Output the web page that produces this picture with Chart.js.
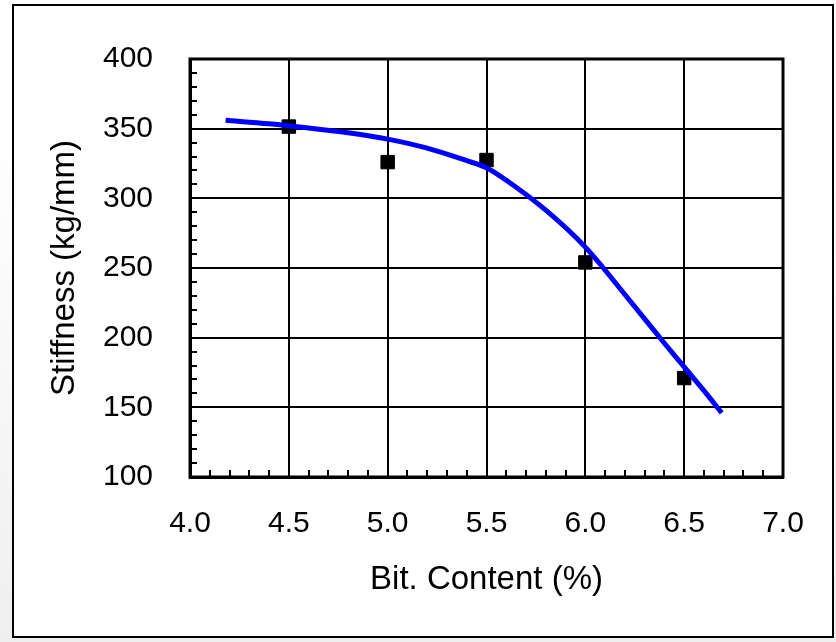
<!DOCTYPE html>
<html lang="en">
<head>
  <meta charset="UTF-8" />
  <title>Stiffness vs Bit. Content</title>
  <script src="https://cdn.jsdelivr.net/npm/chart.js"></script>
  <style>
    html, body { margin: 0; padding: 0; }
    body { width: 836px; height: 642px; position: relative; overflow: hidden;
           background: linear-gradient(#ffffff 0%, #ffffff 20%, #efefef 100%); }
    .frame { position: absolute; left: 12px; top: 4px; width: 818px; height: 630px;
             border: 2.5px solid #000; background: #fff; }
    canvas { position: absolute; left: 0; top: 0; }
  </style>
</head>
<body>
  <div class="frame"></div>
  <canvas id="grafico" width="836" height="642"></canvas>

  <script>
    // measured points
    const bitContent = [4.5, 5.0, 5.5, 6.0, 6.5];
    const stiffness = [351.5, 326, 327.5, 254, 171];

    // fitted curve
    const fitX = [4.18, 4.4, 4.6, 4.8, 5.0, 5.2, 5.4, 5.5, 5.6, 5.8, 6.0, 6.2, 6.4, 6.5, 6.6, 6.69];
    const fitY = [356, 353.5, 350.5, 347, 342.5, 336, 327, 322, 313, 291.5, 265, 231, 196, 179, 162, 146];

    const FONT = '"Liberation Sans", Arial, sans-serif';

    // inward minor ticks + plot box
    const minorTicks = {
      id: 'minorTicks',
      afterDraw(chart) {
        const { ctx, chartArea: a, scales: { x, y } } = chart;
        ctx.save();
        ctx.strokeStyle = '#000';
        ctx.lineWidth = 2;
        ctx.beginPath();
        for (let i = 40; i <= 70; i++) {
          if (i % 5 === 0) continue;
          const px = Math.round(x.getPixelForValue(i / 10));
          ctx.moveTo(px, a.bottom);
          ctx.lineTo(px, a.bottom - 7);
        }
        for (let v = 100; v <= 400; v += 10) {
          if (v % 50 === 0) continue;
          const py = Math.round(y.getPixelForValue(v));
          ctx.moveTo(a.left, py);
          ctx.lineTo(a.left + 7, py);
        }
        ctx.stroke();
        ctx.lineWidth = 3;
        ctx.strokeRect(a.left, a.top, a.right - a.left, a.bottom - a.top);
        ctx.restore();
      }
    };

    new Chart(document.getElementById('grafico'), {
      type: 'scatter',
      data: {
        datasets: [
          {
            label: 'Fit',
            data: fitX.map((v, i) => ({ x: v, y: fitY[i] })),
            showLine: true,
            borderColor: '#0000ff',
            borderWidth: 5,
            pointRadius: 0,
            cubicInterpolationMode: 'monotone'
          },
          {
            label: 'Stiffness',
            data: bitContent.map((v, i) => ({ x: v, y: stiffness[i] })),
            pointStyle: 'rect',
            pointRadius: 9.5,
            backgroundColor: '#000',
            borderColor: '#000',
            borderWidth: 1
          }
        ]
      },
      options: {
        responsive: false,
        animation: false,
        devicePixelRatio: 1,
        layout: { padding: { left: 0, top: 59, right: 53, bottom: 0 } },
        plugins: { legend: { display: false }, tooltip: { enabled: false } },
        scales: {
          x: {
            min: 4.0, max: 7.0,
            afterFit(s) { s.height = 165; },
            ticks: { stepSize: 0.5, padding: 29, color: '#000',
                     font: { family: FONT, size: 30 },
                     callback: v => Number(v).toFixed(1) },
            grid: { color: '#000', lineWidth: 2, drawTicks: false },
            border: { color: '#000', width: 3 },
            title: { display: true, text: 'Bit. Content (%)', color: '#000',
                     font: { family: FONT, size: 33 }, padding: { top: 0, bottom: 42 } }
          },
          y: {
            min: 100, max: 400,
            afterFit(s) { s.width = 190; },
            ticks: { stepSize: 50, padding: 37, color: '#000',
                     font: { family: FONT, size: 30 } },
            grid: { color: '#000', lineWidth: 2, drawTicks: false },
            border: { color: '#000', width: 3 },
            title: { display: true, text: 'Stiffness (kg/mm)', color: '#000',
                     font: { family: FONT, size: 33 }, padding: { top: 45, bottom: 0 } }
          }
        }
      },
      plugins: [minorTicks]
    });
  </script>
</body>
</html>
